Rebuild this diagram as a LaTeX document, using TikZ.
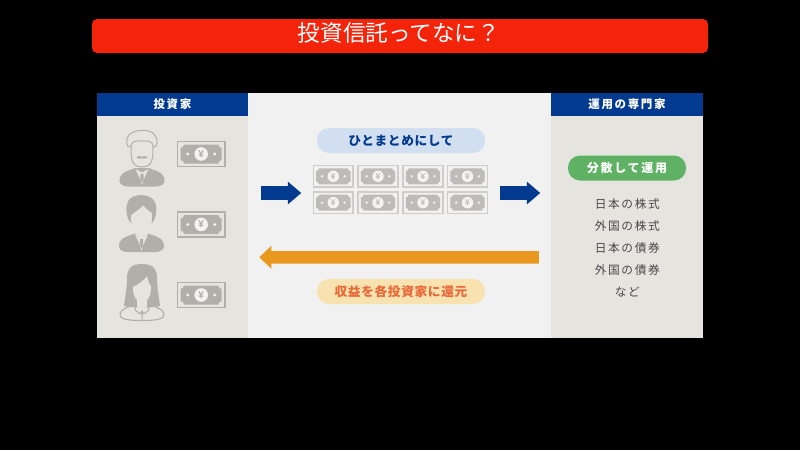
\documentclass[tikz,border=0pt]{standalone}
\usepackage{fontspec}
\usetikzlibrary{shapes.arrows}
\setmainfont{Noto Sans CJK JP}
\newfontfamily\jpwide[LetterSpace=14]{Noto Sans CJK JP}
\newfontfamily\jpsnug[LetterSpace=5]{Noto Sans CJK JP}
\newfontfamily\yenfont{Liberation Sans}
\definecolor{navy}{HTML}{013A8E}
\definecolor{paneside}{HTML}{E5E4DF}
\definecolor{panemid}{HTML}{F1F1F1}
\definecolor{figgrey}{HTML}{B1AFAA}
\definecolor{titlered}{HTML}{F3240A}
\definecolor{amber}{HTML}{E9981F}
\definecolor{leaf}{HTML}{5FB264}
\definecolor{pillblue}{HTML}{D2DFF0}
\definecolor{pillsand}{HTML}{F8E2B0}
\definecolor{rust}{HTML}{E8693A}
\definecolor{ink}{HTML}{484848}
\tikzset{
  x=1pt,y=-1pt,
  panehead/.style={fill=navy,text=white,font=\jpwide\bfseries\fontsize{11.5}{12}\selectfont,inner sep=0pt,minimum height=23pt,outer sep=0pt},
  pill/.style={rounded corners=12pt,inner sep=0pt,minimum height=25pt,font=\jpsnug\bfseries\fontsize{12.7}{14}\selectfont},
  assetline/.style={text=ink,font=\jpwide\fontsize{11.7}{12}\selectfont,inner sep=0pt},
  bluearrow/.style={single arrow,fill=navy,inner sep=0pt,anchor=tail,minimum height=40pt,single arrow head extend=4.5pt,single arrow tip angle=81},
  returnarrow/.style={single arrow,fill=amber,inner sep=0pt,anchor=tail,minimum height=279.5pt,single arrow head extend=5.3pt,single arrow tip angle=87,shape border rotate=180},
  pics/bill/.style n args={2}{code={
    \draw[#1,line width=1.5pt] (-23.6,-12.6) rectangle (23.6,12.6);
    \fill[#2] (-17,-9.5) -- (17,-9.5) .. controls (17.4,-7.5) and (18.5,-6.3) .. (20.5,-6) -- (20.5,6)
      .. controls (18.5,6.3) and (17.4,7.5) .. (17,9.5) -- (-17,9.5) .. controls (-17.4,7.5) and (-18.5,6.3) .. (-20.5,6)
      -- (-20.5,-6) .. controls (-18.5,-6.3) and (-17.4,-7.5) .. (-17,-9.5) -- cycle;
    \fill[white!85!#2] (0,0) circle (6.8);
    \fill[white!85!#2] (-13.5,0) circle (1.6) (13.5,0) circle (1.6);
    \node[transform shape,inner sep=0pt,text=#2] (-yen) at (0,-0.2) {\yenfont\bfseries\fontsize{10}{10}\selectfont ¥};
  }},
  pics/shoulders/.style={code={
    \fill[figgrey] (-7,38) .. controls (-10,40) and (-20,41) .. (-22,47) .. controls (-24,53) and (-21,56.5) .. (-13,56.5)
      -- (13,56.5) .. controls (21,56.5) and (24,53) .. (22,47) .. controls (20,41) and (10,40) .. (7,38) -- cycle;
    % shirt collar and tie
    \fill[paneside] (-6.5,39) -- (0,42.5) -- (6.5,39) -- (2.4,48) -- (0,55) -- (-2.4,48) -- cycle;
    \fill[figgrey] (-1.4,43.5) -- (1.4,43.5) -- (1.7,50) -- (0,53) -- (-1.7,50) -- cycle;
  }},
  pics/mustached/.style={code={
    \pic {shoulders};
    \draw[figgrey,line width=1pt,fill=paneside] (-11,17) .. controls (-17,18) and (-16,8) .. (-13,5)
      .. controls (-9,0) and (7,-2) .. (12,4) .. controls (16,8) and (17,18) .. (11,17)
      .. controls (11,25) and (11,30) .. (8,34) .. controls (5,38) and (-5,38) .. (-8,34) .. controls (-11,30) and (-11,25) .. (-11,17) -- cycle;
    \draw[figgrey,line width=1pt] (-11,17) .. controls (-11,10) and (-5,11) .. (0,11) .. controls (5,11) and (11,10) .. (11,17);
    \fill[figgrey] (-6,28) .. controls (-3,25) and (-1,26) .. (0,27) .. controls (1,26) and (3,25) .. (6,28)
      .. controls (3,29) and (1,28.5) .. (0,28.4) .. controls (-1,28.5) and (-3,29) .. (-6,28) -- cycle;
  }},
  pics/suited/.style={code={
    \pic {shoulders};
    \fill[paneside] (-6,30) -- (6,30) -- (6,39) -- (0,43) -- (-6,39) -- cycle;
    \fill[figgrey] (-11,27) .. controls (-17,20) and (-17,4) .. (-8,1) .. controls (-3,-1) and (4,-1) .. (9,2)
      .. controls (17,6) and (16,20) .. (11,27) -- cycle;
    \fill[paneside] (-10.5,20) .. controls (-8,17) and (-3,15) .. (2,10) .. controls (4,14) and (8,15) .. (10.5,18)
      .. controls (10.5,26) and (10,31) .. (7,35) .. controls (4,38.5) and (-4,38.5) .. (-7,35) .. controls (-10,31) and (-10.5,26) .. (-10.5,20) -- cycle;
  }},
  pics/longhair/.style={code={
    \draw[figgrey,line width=1.1pt,fill=paneside] (-10,41) .. controls (-15,44) and (-21,45) .. (-22,50) .. controls (-23,55) and (-15,56.5) .. (0,56.5)
      .. controls (15,56.5) and (23,55) .. (22,50) .. controls (21,45) and (15,44) .. (10,41) -- cycle;
    \fill[figgrey] (0,0) .. controls (-12,0) and (-15,6) .. (-15,14) .. controls (-15,24) and (-17,34) .. (-18,42)
      .. controls (-12,44) and (12,44) .. (18,42) .. controls (17,34) and (15,24) .. (15,14) .. controls (15,6) and (12,0) .. (0,0) -- cycle;
    \fill[paneside] (-9,23) .. controls (-5,21) and (2,17) .. (5,12) .. controls (6,16) and (7,20) .. (9,22)
      .. controls (9,29) and (8,33) .. (5,36) -- (5,42) -- (0,47) -- (-5,42) -- (-5,36) .. controls (-8,33) and (-9,29) .. (-9,23) -- cycle;
    \draw[figgrey,line width=1pt] (-6,41) -- (-7,46) -- (-2,50) -- (0,47) -- (2,50) -- (7,46) -- (6,41) (0,47) -- (0,56);
  }}
}
\begin{document}
\begin{tikzpicture}
\useasboundingbox (0,0) rectangle (800,450);
\fill[black] (0,0) rectangle (800,450);

% title banner
\node[fill=titlered,rounded corners=5pt,minimum width=616pt,minimum height=34pt,inner sep=0pt] (banner) at (400,36) {};
\node[text=white,inner sep=0pt,font=\fontsize{22.6}{24}\selectfont] (title) at (399,32.6) {投資信託ってなに？};

% three panels
\fill[paneside] (97,93) rectangle (248,338);
\fill[panemid] (248,93) rectangle (551,338);
\fill[paneside] (551,93) rectangle (703,338);
\node[panehead,minimum width=151pt] (investors) at (172.5,104.5) {投資家};
\node[panehead,minimum width=152pt] (managers) at (627,104.5) {運用の専門家};

% investors and their money
\pic (manA) at (142,130) {mustached};
\pic (manB) at (141.5,195.5) {suited};
\pic (woman) at (142,264) {longhair};
\pic (billA) at (201.2,154) {bill={figgrey}{figgrey}};
\pic (billB) at (201.2,224.5) {bill={figgrey}{figgrey}};
\pic (billC) at (201.2,295) {bill={figgrey}{figgrey}};

% pooled money
\node[pill,fill=pillblue,text=navy,minimum width=168pt] (pool) at (401,140.5) {ひとまとめにして};
\foreach \cx/\tag in {333.3/a,378/b,423/c,467.5/d}
  \foreach \cy/\row in {176.3/u,202.7/l}
    \pic[scale=.84] (pool\tag\row) at (\cx,\cy) {bill={figgrey!55!panemid}{figgrey!80!panemid}};
\node[bluearrow] (flowin) at (261,193) {\rule{0pt}{13.3pt}};
\node[bluearrow] (flowout) at (500,193) {\rule{0pt}{13.3pt}};

% returns
\node[returnarrow] (returns) at (539,257.3) {\rule{0pt}{12pt}};
\node[pill,fill=pillsand,text=rust,minimum width=168pt] (payback) at (401,291.5) {収益を各投資家に還元};

% asset list
\node[pill,fill=leaf,text=white,minimum width=118pt,font=\jpwide\bfseries\fontsize{12}{13}\selectfont] (spread) at (627,168) {分散して運用};
\node[assetline] (assetA) at (627.3,204.4) {日本の株式};
\node[assetline] (assetB) at (627.3,226.4) {外国の株式};
\node[assetline] (assetC) at (627.3,248.4) {日本の債券};
\node[assetline] (assetD) at (627.3,270.4) {外国の債券};
\node[assetline] (assetE) at (627.3,292.4) {など};
\end{tikzpicture}
\end{document}
